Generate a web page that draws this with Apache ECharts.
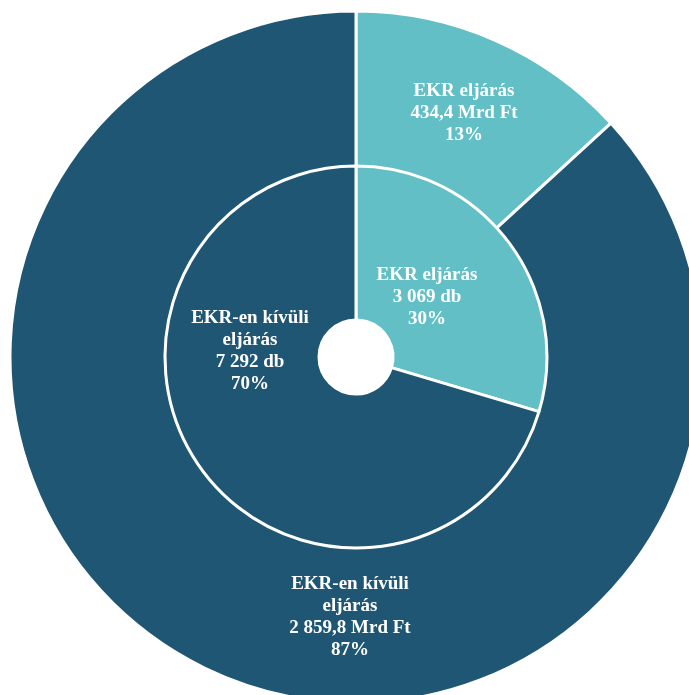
<!DOCTYPE html>
<html>
<head>
<meta charset="utf-8">
<script src="https://cdn.jsdelivr.net/npm/echarts@6/dist/echarts.min.js"></script>
<style>
html,body{margin:0;padding:0;background:#fff;}
#chart{width:689px;height:695px;}
</style>
</head>
<body>
<div id="chart"></div>
<script>
// ---- data ----
const categories = ['EKR eljárás', 'EKR-en kívüli\neljárás'];
const outerValues = [434.4, 2859.8];   // Mrd Ft
const innerValues = [3069, 7292];      // db
const outerUnit = 'Mrd Ft';
const innerUnit = 'db';

// ---- style ----
const colors = ['#62BFC6', '#1F5673'];
const cx = 356, cy = 357;
// label offsets from the chart centre (px)
const outerLabelOffsets = [[108, -244], [-6, 260]];
const innerLabelOffsets = [[71, -60], [-106, -6]];

function huFormat(v, decimals) {
  const parts = v.toFixed(decimals).split('.');
  parts[0] = parts[0].replace(/\B(?=(\d{3})+(?!\d))/g, ' ');
  return parts.join(',');
}

const labelStyle = {
  show: true,
  position: 'inside',
  color: '#ffffff',
  fontFamily: '"Liberation Serif", "Times New Roman", serif',
  fontWeight: 'bold',
  fontSize: 19,
  lineHeight: 22,
  align: 'center'
};

function makeData(values) {
  return values.map((v, i) => ({ name: categories[i], value: v, itemStyle: { color: colors[i] } }));
}

const chart = echarts.init(document.getElementById('chart'));
chart.setOption({
  backgroundColor: '#ffffff',
  animation: false,
  series: [
    {
      type: 'pie',
      center: [cx, cy],
      radius: [190, 346],
      startAngle: 90,
      clockwise: true,
      percentPrecision: 0,
      itemStyle: { borderColor: '#ffffff', borderWidth: 3 },
      label: Object.assign({}, labelStyle, {
        formatter: p => p.name + '\n' + huFormat(p.value, 1) + ' ' + outerUnit + '\n' + p.percent + '%'
      }),
      labelLine: { show: false },
      labelLayout: params => {
        const o = outerLabelOffsets[params.dataIndex];
        return { x: cx + o[0], y: cy + o[1] };
      },
      emphasis: { disabled: true },
      data: makeData(outerValues)
    },
    {
      type: 'pie',
      center: [cx, cy],
      radius: [37, 191],
      startAngle: 90,
      clockwise: true,
      percentPrecision: 0,
      itemStyle: { borderColor: '#ffffff', borderWidth: 3 },
      label: Object.assign({}, labelStyle, {
        formatter: p => p.name + '\n' + huFormat(p.value, 0) + ' ' + innerUnit + '\n' + p.percent + '%'
      }),
      labelLine: { show: false },
      labelLayout: params => {
        const o = innerLabelOffsets[params.dataIndex];
        return { x: cx + o[0], y: cy + o[1] };
      },
      emphasis: { disabled: true },
      data: makeData(innerValues)
    }
  ]
});
</script>
</body>
</html>
